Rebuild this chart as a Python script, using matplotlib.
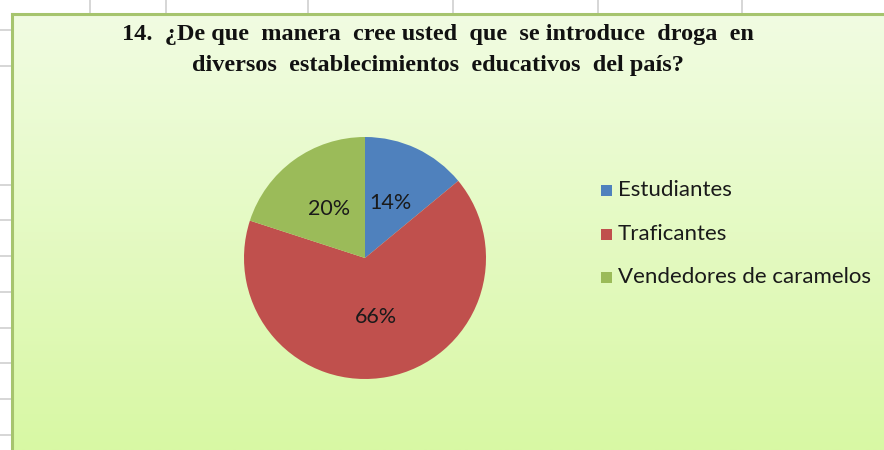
import numpy as np
import matplotlib.pyplot as plt
from matplotlib.lines import Line2D
from matplotlib.patches import Rectangle

# Datos de la pregunta 14
categorias = ['Estudiantes', 'Traficantes', 'Vendedores de caramelos']
porcentajes = [14, 66, 20]
colores = ['#4F81BD', '#C0504D', '#9BBB59']

titulo = ['14.  ¿De que  manera  cree usted  que  se introduce  droga  en',
          'diversos  establecimientos  educativos  del país?']

W, H = 884, 450
fig = plt.figure(figsize=(W / 100, H / 100), dpi=100)
fig.patch.set_facecolor('white')

# lineas de la hoja de calculo detras del grafico
for x in [90, 166, 308, 453, 598, 742]:
    fig.add_artist(Line2D([x / W, x / W], [1, 1 - 14 / H], color='#D0D0D0', lw=1.2))
for y in [30, 66, 185, 220, 256, 292, 328, 363, 399, 435]:
    fig.add_artist(Line2D([0, 12 / W], [1 - y / H] * 2, color='#D0D0D0', lw=1.2))

# area del grafico con degradado
ax_bg = fig.add_axes([12 / W, 0, 1 - 12 / W, 1 - 14 / H])
grad = np.linspace(0, 1, 256).reshape(-1, 1)
top = np.array([0xF1, 0xFC, 0xE2]) / 255
bot = np.array([0xD8, 0xF8, 0xA4]) / 255
img = top[None, None, :] * (1 - grad[:, :, None]) + bot[None, None, :] * grad[:, :, None]
ax_bg.imshow(img, aspect='auto', extent=[0, 1, 0, 1], interpolation='bilinear')
ax_bg.set_xlim(0, 1)
ax_bg.set_ylim(0, 1)
ax_bg.axis('off')

# borde del area
fig.add_artist(Line2D([12 / W, 12 / W], [0, 1 - 14 / H], color='#A6C46E', lw=2.2))
fig.add_artist(Line2D([12 / W, 1], [1 - 14 / H] * 2, color='#A6C46E', lw=2.2))

for i, linea in enumerate(titulo):
    fig.text(438 / W, 1 - (40 + 31 * i) / H, linea, ha='center', va='baseline',
             fontsize=17.5, fontweight='bold', family='Liberation Serif',
             color='#111111')

# pastel
cx, cy, r = 365, 258, 121
ax = fig.add_axes([(cx - r) / W, (H - cy - r) / H, 2 * r / W, 2 * r / H])
wedges, _, autotexts = ax.pie(porcentajes, colors=colores, startangle=90,
                              counterclock=False, radius=1,
                              autopct=lambda p: f'{p:.0f}%', pctdistance=0.5,
                              textprops=dict(fontsize=15.5, family='Lato', color='#1a1a1a'))
ax.set_xlim(-1, 1)
ax.set_ylim(-1, 1)
ax.set_aspect('equal')

# leyenda
for i, (cat, col) in enumerate(zip(categorias, colores)):
    base = 196 + 43.5 * i
    fig.add_artist(Rectangle((601 / W, 1 - base / H), 11 / W, 11 / H,
                             facecolor=col, edgecolor='none', transform=fig.transFigure))
    fig.text(618 / W, 1 - base / H, cat, ha='left', va='baseline',
             fontsize=16, family='Lato', color='#1a1a1a')

fig.savefig('out.png', dpi=100)
